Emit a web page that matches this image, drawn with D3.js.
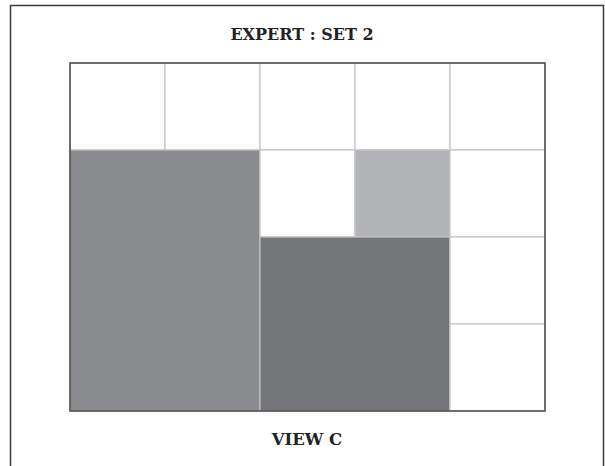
<!DOCTYPE html>
<html>
<head>
<meta charset="utf-8">
<script src="https://cdn.jsdelivr.net/npm/d3@7"></script>
<style>
  body { margin: 0; background: #fff; }
</style>
</head>
<body>
<script>
// grid layout data
var colKeys = ["c0", "c1", "c2", "c3", "c4"];
var rowKeys = ["r0", "r1", "r2", "r3"];

// blocks: start col, start row, col span, row span, shade
var blockCol = [0, 1, 2, 3, 4, 0, 2, 3, 4, 2, 4, 4];
var blockRow = [0, 0, 0, 0, 0, 1, 1, 1, 1, 2, 2, 3];
var blockColSpan = [1, 1, 1, 1, 1, 2, 1, 1, 1, 2, 1, 1];
var blockRowSpan = [1, 1, 1, 1, 1, 3, 1, 1, 1, 2, 1, 1];
var blockShade = ["white", "white", "white", "white", "white", "mid", "white", "light", "white", "dark", "white", "white"];

var titleText = "EXPERT : SET 2";
var captionText = "VIEW C";

function drawGrid() {
  var svgConfig = {
    width: 605,
    height: 466,
    gridLeft: 70,
    gridRight: 545,
    gridTop: 63,
    gridBottom: 411
  };

  var shadeColor = {
    white: "#ffffff",
    light: "#b2b3b6",
    mid: "#8a8b8e",
    dark: "#75767a"
  };

  var svg = d3.select("body").append("svg")
    .attr("width", svgConfig.width)
    .attr("height", svgConfig.height);

  // page frame
  svg.append("rect")
    .attr("x", 10.5)
    .attr("y", 5.5)
    .attr("width", 593)
    .attr("height", 480)
    .attr("fill", "none")
    .attr("stroke", "#3a3a3a")
    .attr("stroke-width", 1.5);

  var xScale = d3.scaleBand()
    .domain(colKeys)
    .range([svgConfig.gridLeft, svgConfig.gridRight]);

  var yScale = d3.scaleBand()
    .domain(rowKeys)
    .range([svgConfig.gridTop, svgConfig.gridBottom]);

  var blocks = blockCol.map(function(c, i) {
    return {
      col: c,
      row: blockRow[i],
      cs: blockColSpan[i],
      rs: blockRowSpan[i],
      shade: blockShade[i]
    };
  });

  svg.append("g")
    .selectAll("rect")
    .data(blocks)
    .enter()
    .append("rect")
    .attr("x", function(d) { return xScale(colKeys[d.col]); })
    .attr("y", function(d) { return yScale(rowKeys[d.row]); })
    .attr("width", function(d) { return xScale.bandwidth() * d.cs; })
    .attr("height", function(d) { return yScale.bandwidth() * d.rs; })
    .attr("fill", function(d) { return shadeColor[d.shade]; })
    .attr("stroke", "#c4c4c4")
    .attr("stroke-width", 1.2);

  // outer grid border
  svg.append("rect")
    .attr("x", svgConfig.gridLeft)
    .attr("y", svgConfig.gridTop)
    .attr("width", svgConfig.gridRight - svgConfig.gridLeft)
    .attr("height", svgConfig.gridBottom - svgConfig.gridTop)
    .attr("fill", "none")
    .attr("stroke", "#4a4a4a")
    .attr("stroke-width", 1.5);

  svg.append("text")
    .attr("x", 302)
    .attr("y", 40)
    .attr("text-anchor", "middle")
    .attr("font-family", "DejaVu Serif")
    .attr("font-weight", "bold")
    .attr("font-size", 16)
    .attr("fill", "#222")
    .text(titleText);

  svg.append("text")
    .attr("x", 307)
    .attr("y", 445)
    .attr("text-anchor", "middle")
    .attr("font-family", "DejaVu Serif")
    .attr("font-weight", "bold")
    .attr("font-size", 16.5)
    .attr("fill", "#222")
    .text(captionText);
}

drawGrid();
</script>
</body>
</html>
